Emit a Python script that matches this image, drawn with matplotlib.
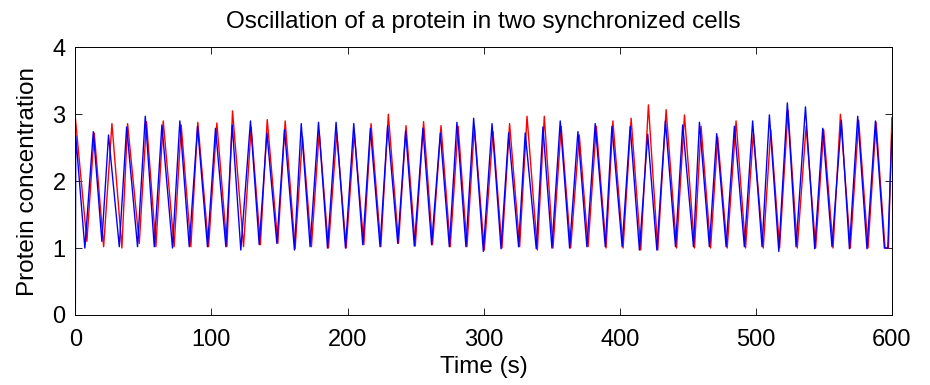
import numpy as np
import matplotlib.pyplot as plt

plt.rcParams['font.family'] = ['Liberation Sans', 'DejaVu Sans']

# turning points (time in s, concentration)
cell1_t = [0, 0.3, 7.0, 13.2, 19.5, 24.4, 32.3, 37.7, 45.7, 51.4, 58.0, 63.6, 71.4,
           76.8, 83.7, 89.8, 97.1, 103.0, 110.6, 115.3, 121.6, 128.7, 135.1, 140.8,
           148.1, 153.7, 161.0, 166.0, 172.5, 178.7, 185.3, 191.6, 198.5, 204.6,
           211.2, 216.8, 223.9, 229.5, 236.9, 242.7, 249.1, 255.4, 261.8, 268.2,
           274.8, 280.4, 287.0, 292.7, 299.8, 306.2, 312.8, 318.4, 325.7, 330.6,
           338.7, 343.6, 350.2, 356.3, 363.2, 369.3, 375.9, 382.0, 389.4, 394.3,
           401.8, 407.7, 414.5, 420.6, 427.3, 433.6, 441.0, 446.3, 454.2, 458.6,
           465.9, 471.3, 478.2, 484.3, 491.6, 497.7, 504.6, 510.0, 516.9, 523.2,
           529.6, 536.5, 543.3, 549.2, 556.0, 562.9, 568.8, 574.9, 581.7, 587.9,
           594.5, 597.0, 600]
cell1_c = [0.0, 2.68, 1.0, 2.74, 1.1, 2.69, 1.02, 2.81, 1.02, 2.97, 1.02, 2.84, 1.0,
           2.9, 1.02, 2.82, 1.02, 2.79, 1.02, 2.84, 0.97, 2.9, 1.05, 2.72,
           1.07, 2.77, 0.97, 2.86, 1.02, 2.88, 1.0, 2.88, 1.0, 2.86,
           1.05, 2.79, 1.02, 2.83, 1.07, 2.75, 1.03, 2.79, 1.05, 2.72,
           1.02, 2.88, 1.02, 2.94, 0.95, 2.86, 0.99, 2.72, 1.02, 2.72,
           0.99, 2.81, 1.0, 2.9, 1.0, 2.74, 1.02, 2.86, 1.02, 2.82,
           1.02, 2.82, 0.97, 2.7, 0.97, 2.9, 1.02, 2.84, 1.02, 2.88,
           1.02, 2.71, 1.02, 2.82, 1.02, 2.9, 1.02, 2.99, 0.95, 3.17,
           1.02, 3.11, 0.99, 2.79, 1.02, 2.91, 0.99, 2.97, 0.99, 2.9,
           1.0, 1.0, 2.7]

cell2_t = [0, 8.5, 13.9, 20.8, 26.9, 34.2, 38.4, 47.0, 52.3, 59.2, 64.6, 72.6, 77.8,
           84.9, 90.0, 97.9, 104.0, 111.4, 115.5, 123.6, 129.2, 136.0, 141.0, 148.8,
           154.2, 161.5, 166.9, 173.5, 179.2, 186.0, 192.1, 199.0, 205.0, 212.0,
           217.3, 224.5, 230.0, 237.5, 243.0, 249.8, 255.9, 262.5, 268.7, 275.5,
           281.3, 287.8, 293.2, 300.5, 306.9, 313.5, 319.1, 326.5, 331.9, 339.5,
           344.6, 351.0, 357.0, 364.0, 370.3, 376.8, 382.8, 390.0, 395.0, 402.5,
           408.4, 415.5, 421.1, 428.0, 434.1, 441.8, 447.6, 455.0, 459.8, 466.8,
           472.0, 479.0, 485.5, 492.5, 498.2, 505.5, 511.0, 517.5, 523.7, 530.5,
           537.0, 544.0, 549.9, 556.8, 562.2, 569.5, 575.6, 582.5, 588.4, 595.0,
           597.5, 600]
cell2_c = [2.95, 1.1, 2.72, 1.02, 2.86, 1.0, 2.86, 1.07, 2.89, 1.02, 2.9, 1.02, 2.84,
           1.02, 2.88, 1.02, 2.87, 1.02, 3.05, 1.02, 2.81, 1.05, 2.92, 1.07,
           2.9, 0.99, 2.67, 1.02, 2.74, 1.0, 2.72, 1.0, 2.72, 1.05,
           2.86, 1.02, 3.0, 1.07, 2.83, 1.03, 2.89, 1.05, 2.83, 1.02,
           2.82, 1.02, 2.82, 0.97, 2.74, 1.0, 2.86, 1.02, 2.97, 0.97,
           2.97, 1.0, 2.82, 1.0, 2.69, 1.02, 2.82, 1.0, 2.9, 1.0,
           2.94, 0.97, 3.14, 0.97, 3.07, 1.0, 2.99, 1.0, 2.82, 1.0,
           2.66, 1.0, 2.9, 1.0, 2.72, 1.0, 2.77, 1.0, 3.06, 1.0,
           2.82, 1.0, 2.77, 1.0, 3.0, 1.0, 2.91, 1.0, 2.88, 1.0,
           1.0, 2.95]

fig = plt.figure(figsize=(9.3, 3.85), dpi=100)
ax = fig.add_axes([0.081, 0.182, 0.878, 0.695])

ax.plot(cell2_t, cell2_c, color='red', lw=1.0)
ax.plot(cell1_t, cell1_c, color='blue', lw=1.0)

ax.set_xlim(0, 600)
ax.set_ylim(0, 4)
ax.set_xticks(np.arange(0, 601, 100))
ax.set_yticks(np.arange(0, 5, 1))
ax.tick_params(direction='in', top=True, right=True, labelsize=17, length=5, width=0.6)
ax.tick_params(axis='x', pad=10)
ax.tick_params(axis='y', pad=7)
for s in ax.spines.values():
    s.set_linewidth(0.7)

ax.set_xlabel('Time (s)', fontsize=17.5, labelpad=4)
ax.set_ylabel('Protein concentration', fontsize=17.5, labelpad=10)
ax.set_title('Oscillation of a protein in two synchronized cells', fontsize=17.5, pad=14)

fig.savefig('out.png', dpi=100)
